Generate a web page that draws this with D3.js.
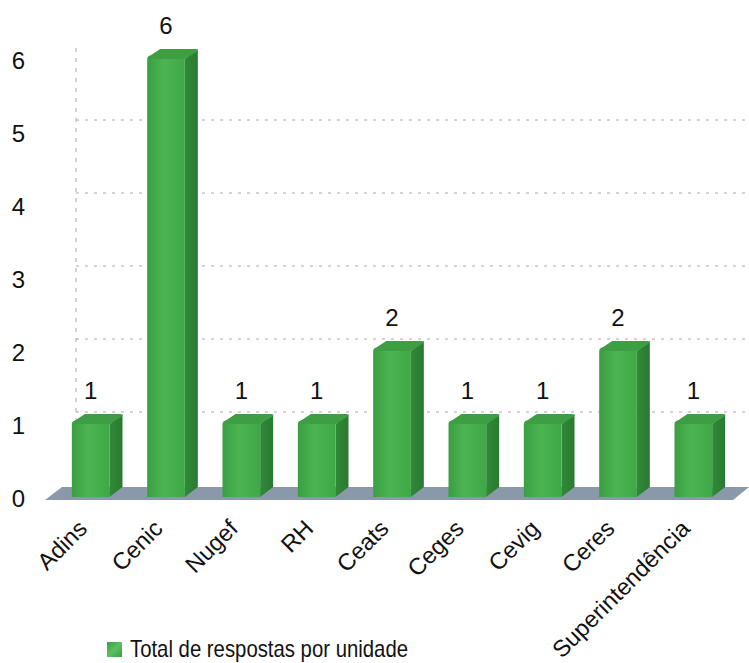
<!DOCTYPE html>
<html>
<head>
<meta charset="utf-8">
<script src="https://cdn.jsdelivr.net/npm/d3@7"></script>
<style>
body{margin:0;background:#fff;}
svg{display:block;font-family:"Liberation Sans",Arial,sans-serif;}
</style>
</head>
<body>
<svg id="chart" width="749" height="663"></svg>
<script>
const categories = ["Adins","Cenic","Nugef","RH","Ceats","Ceges","Cevig","Ceres","Superintendência"];
const values = [1,6,1,1,2,1,1,2,1];
const yTicks = [0,1,2,3,4,5,6];
const seriesName = "Total de respostas por unidade";

const svg = d3.select("#chart");
const defs = svg.append("defs");

const gFront = defs.append("linearGradient").attr("id","front").attr("x1","0").attr("x2","1").attr("y1","0").attr("y2","0");
gFront.append("stop").attr("offset","0").attr("stop-color","#3a9f42");
gFront.append("stop").attr("offset","0.45").attr("stop-color","#4cb552");
gFront.append("stop").attr("offset","1").attr("stop-color","#3fa846");
const gSide = defs.append("linearGradient").attr("id","side").attr("x1","0").attr("x2","1");
gSide.append("stop").attr("offset","0").attr("stop-color","#2f8a37");
gSide.append("stop").attr("offset","1").attr("stop-color","#2a7a31");
const gLeg = defs.append("linearGradient").attr("id","leg").attr("x1","0").attr("x2","1").attr("y1","0").attr("y2","1");
gLeg.append("stop").attr("offset","0").attr("stop-color","#3a9f42");
gLeg.append("stop").attr("offset","0.5").attr("stop-color","#5cc060");
gLeg.append("stop").attr("offset","1").attr("stop-color","#3a9f42");

const x = d3.scaleBand().domain(categories).range([53, 731]).paddingInner(0.5).paddingOuter(0.25);
const y = d3.scaleLinear().domain([0, 6]).range([497, 59]);
const dx = 13, dy = 10;

// back wall gridlines
const grid = svg.append("g");
grid.selectAll("line.h").data(yTicks.filter(v => v > 0 && v < 6)).enter().append("line")
  .attr("x1", 76).attr("x2", 745)
  .attr("y1", d => y(d) - 12).attr("y2", d => y(d) - 12)
  .attr("stroke", "#a8a8a8").attr("stroke-width", 1).attr("stroke-dasharray", "3,6");
grid.append("line").attr("x1", 76).attr("x2", 76).attr("y1", 48).attr("y2", 488)
  .attr("stroke", "#a8a8a8").attr("stroke-width", 1).attr("stroke-dasharray", "4,6");

// floor
const fy = y(0);
svg.append("path")
  .attr("d", `M45,${fy+3} L733,${fy+3} L749,${fy-10} L62,${fy-10} Z`)
  .attr("fill", "#8a99aa");

// bars
const bars = svg.append("g").selectAll("g").data(categories).enter().append("g");
bars.each(function(c, i) {
  const g = d3.select(this);
  const x0 = x(c), x1 = x0 + x.bandwidth();
  const yt = y(values[i]), yb = y(0);
  g.append("path").attr("d", `M${x1},${yt} L${x1+dx},${yt-dy} L${x1+dx},${yb-dy} L${x1},${yb} Z`)
    .attr("fill", "url(#side)");
  g.append("path").attr("d", `M${x0},${yt} Q${x0},${yt-3} ${x0+4},${yt-4} L${x0+dx},${yt-dy} L${x1+dx-2},${yt-dy} Q${x1+dx},${yt-dy} ${x1+dx},${yt-dy+2} L${x1},${yt} Z`)
    .attr("fill", "#3d9e44");
  g.append("rect").attr("x", x0).attr("y", yt).attr("width", x.bandwidth()).attr("height", yb - yt)
    .attr("fill", "url(#front)");
  g.append("text").attr("x", x0 + x.bandwidth()/2).attr("y", yt - 25)
    .attr("text-anchor", "middle").attr("font-size", 24).attr("fill", "#111").text(values[i]);
});

// y axis
const yAxis = d3.axisLeft(y).tickValues(yTicks).tickSize(0).tickPadding(0).tickFormat(d3.format("d"));
const ya = svg.append("g").attr("transform", "translate(25,2)").call(yAxis);
ya.select(".domain").remove();
ya.selectAll("text").attr("font-size", 24).attr("fill", "#111").attr("font-family", "Liberation Sans, Arial, sans-serif");

// x axis labels
const xa = svg.append("g");
xa.selectAll("text").data(categories).enter().append("text")
  .attr("transform", c => `translate(${x(c) + x.bandwidth()/2 - 2},${530}) rotate(-45)`)
  .attr("text-anchor", "end").attr("font-size", 23.5).attr("fill", "#111").text(c => c);

// legend
svg.append("rect").attr("x", 107).attr("y", 642).attr("width", 15).attr("height", 15).attr("fill", "url(#leg)");
svg.append("text").attr("x", 130).attr("y", 657).attr("font-size", 24)
  .attr("textLength", 278).attr("lengthAdjust", "spacingAndGlyphs")
  .attr("fill", "#111").text(seriesName);
</script>
</body>
</html>
